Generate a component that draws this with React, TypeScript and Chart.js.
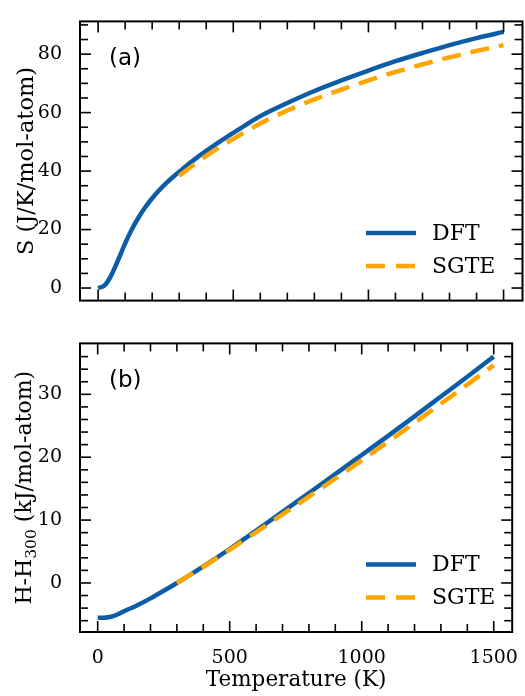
import React, { useEffect, useRef } from "react";
import { Chart, registerables } from "chart.js";

Chart.register(...registerables);

// ---- tick labels ----
const xMajorTicks = [0, 500, 1000, 1500];
const xMinorStep = 100;
const entropyTicks = [0, 20, 40, 60, 80];
const entropyMinorStep = 5;
const enthalpyTicks = [0, 10, 20, 30];
const enthalpyMinorStep = 2;

// ---- series ----
const seriesNames = ["DFT", "SGTE"];

// (a) entropy, J/K/mol-atom
const dftTempS = [0, 25, 50, 75, 100, 125, 150, 175, 200, 225, 250, 275, 300, 350, 400, 450, 500, 550, 600, 700, 800, 900, 1000, 1100, 1200, 1300, 1400, 1500];
const dftEntropy = [0, 1.0, 4.6, 9.8, 15.3, 20.1, 24.2, 27.7, 30.7, 33.35, 35.7, 37.8, 39.75, 43.5, 46.9, 50.1, 53.1, 56.0, 58.8, 63.3, 67.4, 71.0, 74.4, 77.6, 80.4, 83.1, 85.5, 87.6];
const sgteTemp = [300, 400, 500, 600, 700, 800, 900, 1000, 1100, 1200, 1300, 1400, 1500];
const sgteEntropy = [38.4, 45.2, 51.0, 56.3, 60.7, 64.5, 67.9, 71.0, 73.9, 76.5, 78.9, 81.1, 83.1];

// (b) enthalpy H-H300, kJ/mol-atom
const dftTempH = [0, 25, 50, 75, 100, 150, 200, 250, 300, 350, 400, 450, 500, 550, 600, 700, 800, 900, 1000, 1100, 1200, 1300, 1400, 1500];
const dftEnthalpy = [-5.55, -5.53, -5.38, -5.02, -4.5, -3.55, -2.45, -1.25, 0, 1.3, 2.63, 4.0, 5.4, 6.85, 8.33, 11.3, 14.3, 17.3, 20.35, 23.4, 26.5, 29.65, 32.8, 36.0];
const sgteEnthalpy = [0, 2.58, 5.28, 8.08, 10.9, 13.73, 16.6, 19.5, 22.45, 25.45, 28.5, 31.55, 34.65];

const DFT_COLOR = "#0C5DA5";
const SGTE_COLOR = "#FFA500";
const SERIF = '"DejaVu Serif", serif';
const SANS = '"DejaVu Sans", sans-serif';

const toPoints = (xs: number[], ys: number[]) => xs.map((x, i) => ({ x, y: ys[i] }));

type PanelCfg = {
  height: number;
  top: number;
  padTop: number;
  padBottom: number;
  showX: boolean;
  xAxisHeight: number;
  yMin: number;
  yMax: number;
  yTicks: number[];
  yMinorStep: number;
  dft: { x: number; y: number }[];
  sgte: { x: number; y: number }[];
  letter: string;
  yTitle: "S" | "H";
};

const framePlugin = {
  id: "frameTicks",
  afterDatasetsDraw(chart: any, _args: any, opts: any) {
    const { ctx, chartArea, scales } = chart;
    const { left, right, top, bottom } = chartArea;
    const x = scales.x;
    const y = scales.y;
    const majLen = 11;
    const minLen = 8;
    ctx.save();
    ctx.strokeStyle = "#000";
    ctx.lineWidth = 1.6;
    const seg = (x1: number, y1: number, x2: number, y2: number) => {
      ctx.beginPath();
      ctx.moveTo(x1, y1);
      ctx.lineTo(x2, y2);
      ctx.stroke();
    };
    // x ticks
    for (let v = Math.ceil(x.min / xMinorStep) * xMinorStep; v <= x.max; v += xMinorStep) {
      const px = x.getPixelForValue(v);
      if (px < left + 2 || px > right - 2) continue;
      const len = xMajorTicks.includes(v) ? majLen : minLen;
      seg(px, bottom, px, bottom - len);
      seg(px, top, px, top + len);
    }
    // y ticks
    const step = opts.yMinorStep;
    const majors: number[] = opts.yTicks;
    for (let v = Math.ceil(y.min / step) * step; v <= y.max; v += step) {
      const py = y.getPixelForValue(v);
      if (py < top + 2 || py > bottom - 2) continue;
      const len = majors.includes(v) ? majLen : minLen;
      seg(left, py, left + len, py);
      seg(right, py, right - len, py);
    }
    // frame
    ctx.lineWidth = 2;
    ctx.strokeRect(left, top, right - left, bottom - top);

    // panel letter
    ctx.fillStyle = "#000";
    ctx.font = `23px ${SANS}`;
    ctx.textAlign = "left";
    ctx.textBaseline = "middle";
    ctx.fillText(opts.letter, 109, top + 38);

    // legend
    const lx1 = 366;
    const lx2 = 416;
    const ly1 = bottom - 67.5;
    const ly2 = bottom - 34.5;
    ctx.lineWidth = 4.5;
    ctx.strokeStyle = DFT_COLOR;
    seg(lx1, ly1, lx2, ly1);
    ctx.strokeStyle = SGTE_COLOR;
    ctx.setLineDash([19, 11]);
    seg(lx1, ly2, lx2, ly2);
    ctx.setLineDash([]);
    ctx.fillStyle = "#000";
    ctx.font = `22px ${SERIF}`;
    ctx.fillText(seriesNames[0], 432, ly1 + 1);
    ctx.fillText(seriesNames[1], 432, ly2 + 1);

    // y title
    const cy = (top + bottom) / 2;
    ctx.save();
    ctx.translate(26, cy);
    ctx.rotate(-Math.PI / 2);
    ctx.textBaseline = "alphabetic";
    ctx.textAlign = "left";
    if (opts.yTitle === "S") {
      ctx.font = `22.5px ${SERIF}`;
      const t = "S (J/K/mol-atom)";
      const w = ctx.measureText(t).width;
      ctx.fillText(t, -w / 2, 7);
    } else {
      const p1 = "H-H";
      const p2 = "300";
      const p3 = " (kJ/mol-atom)";
      ctx.font = `22px ${SERIF}`;
      const w1 = ctx.measureText(p1).width;
      const w3 = ctx.measureText(p3).width;
      ctx.font = `15.5px ${SERIF}`;
      const w2 = ctx.measureText(p2).width;
      const start = -(w1 + w2 + w3) / 2;
      ctx.font = `22px ${SERIF}`;
      ctx.fillText(p1, start, 5);
      ctx.font = `15.5px ${SERIF}`;
      ctx.fillText(p2, start + w1, 10);
      ctx.font = `22px ${SERIF}`;
      ctx.fillText(p3, start + w1 + w2, 5);
    }
    ctx.restore();

    // x title
    if (opts.showX) {
      ctx.font = `21.5px ${SERIF}`;
      ctx.textAlign = "center";
      ctx.textBaseline = "middle";
      ctx.fillText("Temperature (K)", (left + right) / 2, bottom + 48);
    }
    ctx.restore();
  },
};

function Panel({ cfg }: { cfg: PanelCfg }) {
  const ref = useRef<HTMLCanvasElement | null>(null);
  useEffect(() => {
    if (!ref.current) return;
    const chart = new Chart(ref.current, {
      type: "line",
      data: {
        datasets: [
          {
            label: seriesNames[1],
            data: cfg.sgte,
            borderColor: SGTE_COLOR,
            borderWidth: 4.5,
            borderDash: [19, 10],
            pointRadius: 0,
            cubicInterpolationMode: "monotone",
            fill: false,
            order: 1,
          },
          {
            label: seriesNames[0],
            data: cfg.dft,
            borderColor: DFT_COLOR,
            borderWidth: 4.5,
            pointRadius: 0,
            cubicInterpolationMode: "monotone",
            fill: false,
            order: 2,
          },
        ],
      },
      options: {
        animation: false,
        responsive: false,
        maintainAspectRatio: false,
        parsing: false as any,
        layout: { padding: { top: cfg.padTop, right: 2.5, bottom: cfg.padBottom, left: 0 } },
        plugins: {
          legend: { display: false },
          tooltip: { enabled: false },
          frameTicks: {
            yTicks: cfg.yTicks,
            yMinorStep: cfg.yMinorStep,
            letter: cfg.letter,
            yTitle: cfg.yTitle,
            showX: cfg.showX,
          },
        } as any,
        scales: {
          x: {
            type: "linear",
            min: -67,
            max: 1570,
            display: cfg.showX,
            grid: { display: false },
            border: { display: false },
            afterBuildTicks: (s: any) => {
              s.ticks = xMajorTicks.map((v) => ({ value: v }));
            },
            afterFit: (s: any) => {
              s.height = cfg.xAxisHeight;
            },
            ticks: {
              font: { family: SERIF, size: 19 },
              color: "#000",
              padding: 7,
              maxRotation: 0,
              autoSkip: false,
              callback: (v: any) => String(v),
            },
          },
          y: {
            type: "linear",
            min: cfg.yMin,
            max: cfg.yMax,
            grid: { display: false },
            border: { display: false },
            afterBuildTicks: (s: any) => {
              s.ticks = cfg.yTicks.map((v) => ({ value: v }));
            },
            afterFit: (s: any) => {
              s.width = 80;
            },
            ticks: {
              font: { family: SERIF, size: 19 },
              color: "#000",
              padding: 10,
              autoSkip: false,
              callback: (v: any) => String(v),
            },
          },
        },
      } as any,
      plugins: [framePlugin],
    });
    return () => chart.destroy();
  }, [cfg]);
  return (
    <canvas
      ref={ref}
      width={525}
      height={cfg.height}
      style={{ position: "absolute", left: 0, top: cfg.top, width: 525, height: cfg.height, display: "block" }}
    />
  );
}

const topCfg: PanelCfg = {
  height: 322,
  top: 0,
  padTop: 14,
  padBottom: 8,
  showX: false,
  xAxisHeight: 0,
  yMin: -4.3,
  yMax: 91.2,
  yTicks: entropyTicks,
  yMinorStep: entropyMinorStep,
  dft: toPoints(dftTempS, dftEntropy),
  sgte: toPoints(sgteTemp, sgteEntropy),
  letter: "(a)",
  yTitle: "S",
};

const bottomCfg: PanelCfg = {
  height: 374,
  top: 322,
  padTop: 7,
  padBottom: 0,
  showX: true,
  xAxisHeight: 64,
  yMin: -7.8,
  yMax: 38.1,
  yTicks: enthalpyTicks,
  yMinorStep: enthalpyMinorStep,
  dft: toPoints(dftTempH, dftEnthalpy),
  sgte: toPoints(sgteTemp, sgteEnthalpy),
  letter: "(b)",
  yTitle: "H",
};

export default function App() {
  return (
    <div style={{ position: "fixed", left: 0, top: 0, width: 525, height: 696, background: "#fff" }}>
      <Panel cfg={topCfg} />
      <Panel cfg={bottomCfg} />
    </div>
  );
}
